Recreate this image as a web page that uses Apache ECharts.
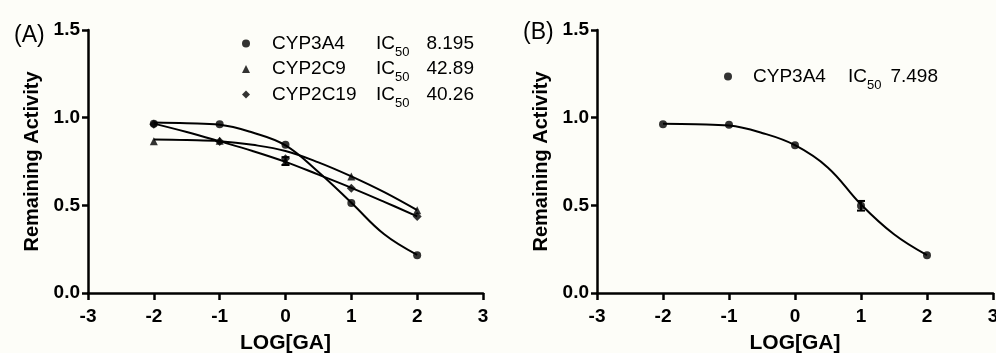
<!DOCTYPE html>
<html>
<head>
<meta charset="utf-8">
<script src="https://cdn.jsdelivr.net/npm/echarts@6/dist/echarts.min.js"></script>
<style>
  html, body { margin: 0; padding: 0; background: #fdfdf8; }
  #chart { width: 996px; height: 353px; }
</style>
</head>
<body>
<div id="chart"></div>
<script>
// 浓度 (log)
const logGA = [-2, -1, 0, 1, 2];

// (A) 三种酶的剩余活性
const cyp3a4A = [0.965, 0.962, 0.845, 0.513, 0.216];
const cyp2c9A = [0.865, 0.868, 0.752, 0.665, 0.472];
const cyp2c19A = [0.962, 0.864, 0.765, 0.598, 0.437];
// (B) CYP3A4
const cyp3a4B = [0.962, 0.96, 0.843, 0.497, 0.216];

// 拟合曲线 (从图上读的点)
const fitX = [-2, -1.5, -1, -0.5, 0, 0.5, 1, 1.5, 2];
const fit3a4A = [0.972, 0.968, 0.96, 0.915, 0.842, 0.69, 0.515, 0.335, 0.218];
const fit2c9A = [0.875, 0.872, 0.866, 0.845, 0.81, 0.745, 0.665, 0.575, 0.472];
const fit2c19A = [0.966, 0.918, 0.865, 0.81, 0.748, 0.675, 0.6, 0.52, 0.437];
const fit3a4B = [0.965, 0.962, 0.955, 0.913, 0.843, 0.715, 0.505, 0.335, 0.216];

// 误差棒 [x, low, high]
const errA = [[0, 0.73, 0.775]];
const errB = [[1, 0.47, 0.525]];

// IC50
const namesA = ['CYP3A4', 'CYP2C9', 'CYP2C19'];
const ic50A = ['8.195', '42.89', '40.26'];
const namesB = ['CYP3A4'];
const ic50B = ['7.498'];

const FONT = '"Liberation Sans", Arial, sans-serif';

function pairs(xs, ys) {
  return xs.map((x, i) => [x, ys[i]]);
}

function errBar(params, api) {
  const hi = api.coord([api.value(0), api.value(2)]);
  const lo = api.coord([api.value(0), api.value(1)]);
  const w = 4;
  const st = { stroke: '#000', lineWidth: 2 };
  return {
    type: 'group',
    children: [
      { type: 'line', shape: { x1: hi[0], y1: hi[1], x2: lo[0], y2: lo[1] }, style: st },
      { type: 'line', shape: { x1: hi[0] - w, y1: hi[1], x2: hi[0] + w, y2: hi[1] }, style: st },
      { type: 'line', shape: { x1: lo[0] - w, y1: lo[1], x2: lo[0] + w, y2: lo[1] }, style: st }
    ]
  };
}

function xAxis(idx) {
  return {
    type: 'value', gridIndex: idx, min: -3, max: 3, interval: 1,
    name: 'LOG[GA]', nameLocation: 'middle', nameGap: 40,
    nameTextStyle: { fontFamily: FONT, fontSize: 21, fontWeight: 'bold', color: '#000' },
    axisLine: { onZero: false, lineStyle: { color: '#000', width: 2.5 } },
    axisTick: { length: 7, lineStyle: { color: '#000', width: 2.5 } },
    axisLabel: { margin: 14, fontFamily: FONT, fontSize: 19, fontWeight: 'bold', color: '#000' },
    splitLine: { show: false }
  };
}

function yAxis(idx) {
  return {
    type: 'value', gridIndex: idx, min: 0, max: 1.5, interval: 0.5,
    name: 'Remaining Activity', nameLocation: 'middle', nameGap: 46,
    nameTextStyle: { fontFamily: FONT, fontSize: 20, fontWeight: 'bold', color: '#000' },
    axisLine: { show: true, onZero: false, lineStyle: { color: '#000', width: 2.5 } },
    axisTick: { show: true, length: 6, lineStyle: { color: '#000', width: 2.5 } },
    axisLabel: { margin: 8, fontFamily: FONT, fontSize: 19, fontWeight: 'bold', color: '#000',
      formatter: v => v.toFixed(1) },
    splitLine: { show: false }
  };
}

function legendRich(gap, nameW, valPad) {
  return {
    g: { width: gap, lineHeight: 30 },
    n: { width: nameW, fontSize: 19, lineHeight: 30, fontFamily: FONT, color: '#000' },
    i: { fontSize: 19, lineHeight: 30, fontFamily: FONT, color: '#000' },
    s: { fontSize: 13, lineHeight: 30, verticalAlign: 'bottom', fontFamily: FONT, color: '#000' },
    v: { fontSize: 19, lineHeight: 30, padding: [0, 0, 0, valPad], fontFamily: FONT, color: '#000' }
  };
}

function scatter(name, xi, ys, symbol, size) {
  return {
    name, type: 'scatter', xAxisIndex: xi, yAxisIndex: xi,
    data: pairs(logGA, ys), symbol, symbolSize: size,
    itemStyle: { color: '#000' }, z: 5
  };
}

function fit(name, xi, ys) {
  return {
    name, type: 'line', xAxisIndex: xi, yAxisIndex: xi,
    data: pairs(fitX, ys), smooth: 0.4, showSymbol: false,
    lineStyle: { color: '#000', width: 2 }, z: 4
  };
}

function errSeries(xi, data) {
  return {
    type: 'custom', xAxisIndex: xi, yAxisIndex: xi,
    data, renderItem: errBar, encode: { x: 0, y: [1, 2] }, z: 6
  };
}

const chart = echarts.init(document.getElementById('chart'), null, { renderer: 'canvas' });

chart.setOption({
  backgroundColor: '#fdfdf8',
  animation: false,
  title: [
    { text: '(A)', left: 9, top: 19, textStyle: { fontFamily: FONT, fontSize: 23, fontWeight: 'normal', color: '#000' } },
    { text: '(B)', left: 518, top: 16, textStyle: { fontFamily: FONT, fontSize: 23, fontWeight: 'normal', color: '#000' } }
  ],
  grid: [
    { left: 88, top: 30, width: 395, height: 263, outerBoundsMode: 'none', containLabel: false },
    { left: 597, top: 30, width: 396, height: 263, outerBoundsMode: 'none', containLabel: false }
  ],
  xAxis: [xAxis(0), xAxis(1)],
  yAxis: [yAxis(0), yAxis(1)],
  legend: [
    {
      data: namesA, orient: 'vertical', left: 237, top: 29, itemGap: 1,
      itemWidth: 8, itemHeight: 8, selectedMode: false,
      formatter: name => {
        const k = namesA.indexOf(name);
        return `{g| }{n|${name}}{i|IC}{s|50}{v|${ic50A[k]}}`;
      },
      textStyle: { rich: legendRich(17, 104, 17) }
    },
    {
      data: namesB, orient: 'vertical', left: 719, top: 62, itemGap: 1,
      itemWidth: 8, itemHeight: 8, selectedMode: false,
      formatter: name => {
        const k = namesB.indexOf(name);
        return `{g| }{n|${name}}{i|IC}{s|50}{v|${ic50B[k]}}`;
      },
      textStyle: { rich: legendRich(16, 95, 9) }
    }
  ],
  series: [
    fit('fit3a4A', 0, fit3a4A),
    fit('fit2c9A', 0, fit2c9A),
    fit('fit2c19A', 0, fit2c19A),
    scatter('CYP3A4', 0, cyp3a4A, 'circle', 8),
    scatter('CYP2C9', 0, cyp2c9A, 'triangle', 8),
    scatter('CYP2C19', 0, cyp2c19A, 'diamond', 9),
    errSeries(0, errA),
    fit('fit3a4B', 1, fit3a4B),
    scatter('CYP3A4', 1, cyp3a4B, 'circle', 8),
    errSeries(1, errB)
  ]
});
</script>
</body>
</html>
